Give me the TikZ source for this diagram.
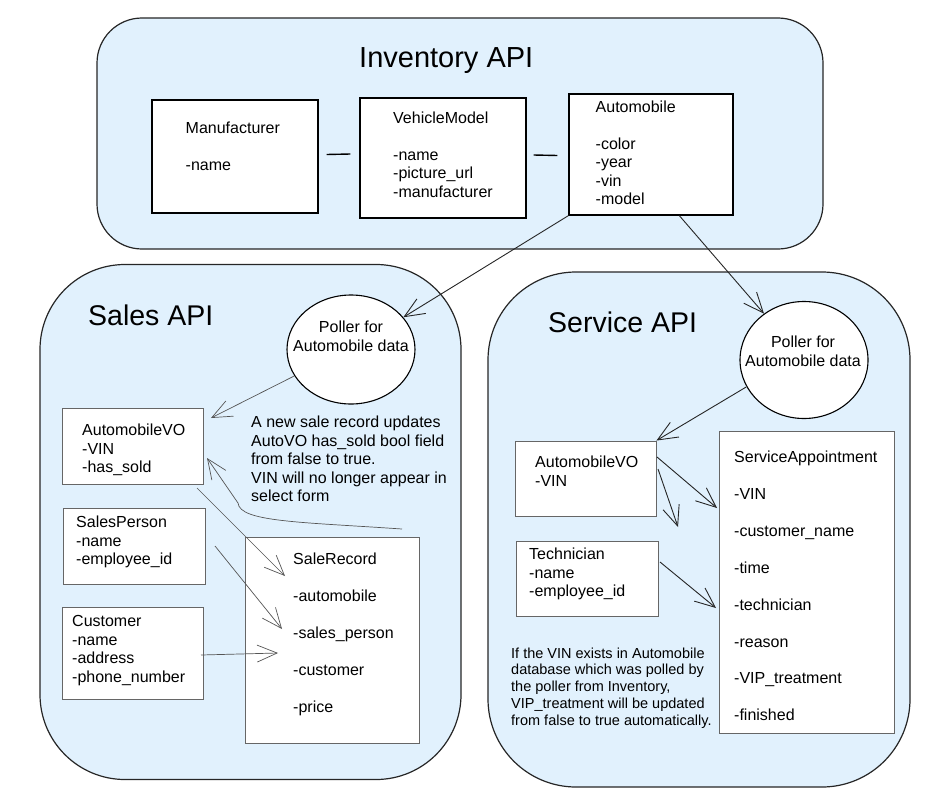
\documentclass[tikz,border=0pt]{standalone}
\usepackage{fontspec}
\setmainfont{Liberation Sans}
\usetikzlibrary{arrows.meta,shapes.geometric,calc}
\definecolor{apibg}{HTML}{E1F1FD}
\definecolor{edgegray}{HTML}{555555}
\begin{document}
\begin{tikzpicture}[x=1pt,y=-1pt,
  container/.style={draw=black!85, line width=1.2pt, fill=apibg, inner sep=0},
  invbox/.style={draw=black, line width=1.3pt, fill=white, inner sep=0},
  subbox/.style={draw=black!60, line width=0.9pt, fill=white, inner sep=0},
  poller/.style={ellipse, draw=black, line width=1.1pt, fill=white, inner sep=0},
  txt/.style={anchor=base west, inner sep=0, align=left, font=\fontsize{16}{18.5}\selectfont},
  ptxt/.style={anchor=base, inner sep=0, align=center, font=\fontsize{16}{18.5}\selectfont},
  notetxt/.style={anchor=base west, inner sep=0, align=left, font=\fontsize{14.5}{16.8}\selectfont},
  title/.style={anchor=base west, inner sep=0, font=\fontsize{29}{34}\selectfont},
  arr/.style={-{Straight Barb[length=20pt,width=17pt]}, line width=0.9pt, draw=black!85},
  arrg/.style={-{Straight Barb[length=20pt,width=17pt]}, line width=0.7pt, draw=edgegray},
  link/.style={line width=1.4pt, draw=black}
]
\useasboundingbox (0,0) rectangle (949,808);

% ---------------- containers ----------------
\node[container, rounded corners=45pt, minimum width=726pt, minimum height=231pt] (inv) at (460,133.5) {};
\node[container, rounded corners=85pt, minimum width=421pt, minimum height=515pt] (sales) at (250.5,522) {};
\node[container, rounded corners=88pt, minimum width=422pt, minimum height=515pt] (service) at (699,529.5) {};

% ---------------- Inventory ----------------
\node[title] (invtitle) at (359,67) {Inventory API};

\node[invbox, minimum width=166pt, minimum height=113pt] (man) at (235,156.5) {};
\node[txt] (mantxt) at (185.5,170) {Manufacturer\\[18pt]-name};

\node[invbox, minimum width=166pt, minimum height=120pt] (vm) at (443,158) {};
\node[txt] (vmtxt) at (393,197) {VehicleModel\\[18pt]-name\\-picture\_url\\-manufacturer};

\node[invbox, minimum width=164pt, minimum height=121pt] (auto) at (651,154.5) {};
\node[txt] (autotxt) at (595.5,204.5) {Automobile\\[18pt]-color\\-year\\-vin\\-model};

\draw[link] ($(man.east)+(8,-2)$) -- ($(vm.west)+(-9,-4)$);
\draw[link] ($(vm.east)+(7,-3)$) -- ($(auto.west)+(-11,1)$);

% ---------------- Sales ----------------
\node[title, font=\fontsize{28.5}{34}\selectfont] (salestitle) at (88,325) {Sales API};
\node[poller, minimum width=128pt, minimum height=109pt] (sp) at (351,349.5) {};
\node[ptxt] (sptxt) at (351,351) {Poller for\\Automobile data};

\node[subbox, minimum width=141pt, minimum height=76pt] (avoS) at (132.5,446) {};
\node[txt] (avoStxt) at (82,472.5) {AutomobileVO\\-VIN\\-has\_sold};

\node[txt] (salesnote) at (251,501.5) {A new sale record updates\\AutoVO has\_sold bool field\\from false to true.\\VIN will no longer appear in\\select form};

\node[subbox, minimum width=142pt, minimum height=76pt] (spers) at (134,546) {};
\node[txt] (sperstxt) at (76,564.5) {SalesPerson\\-name\\-employee\_id};

\node[subbox, minimum width=141pt, minimum height=92pt] (cust) at (132.5,653) {};
\node[txt] (custtxt) at (72,682) {Customer\\-name\\-address\\-phone\_number};

\node[subbox, minimum width=174pt, minimum height=206pt] (srec) at (332,640) {};
\node[txt, font=\fontsize{16}{37}\selectfont] (srectxt) at (293,712.5) {SaleRecord\\-automobile\\-sales\_person\\-customer\\-price};

\coordinate (spA) at (211,418);
\draw[arrg] (sp.205) -- (spA);
\coordinate (s1a) at (197,488);
\coordinate (s1b) at (285,576);
\draw[arrg] (s1a) -- (s1b);
\coordinate (s2a) at (215,546);
\coordinate (s2b) at (282,629);
\draw[arrg] (s2a) -- (s2b);
\coordinate (s3a) at (201,655);
\coordinate (s3b) at (278,653);
\draw[arrg] (s3a) -- (s3b);
\coordinate (cva) at (402,529);
\coordinate (cvb) at (207,458);
\draw[arrg] (cva) .. controls (300,522) and (240,522) .. (238,503) -- (cvb);

% ---------------- Service ----------------
\node[title, font=\fontsize{28.5}{34}\selectfont] (svtitle) at (548,332) {Service API};
\node[poller, minimum width=128pt, minimum height=117pt] (svp) at (804,360) {};
\node[ptxt] (svptxt) at (803,366) {Poller for\\Automobile data};

\node[subbox, minimum width=141pt, minimum height=75pt] (avoV) at (585.5,478.5) {};
\node[txt] (avoVtxt) at (535,486) {AutomobileVO\\-VIN};

\node[subbox, minimum width=175pt, minimum height=302pt] (sapp) at (806.5,582) {};
\node[txt, font=\fontsize{16}{36.9}\selectfont] (sapptxt) at (734,720.8) {ServiceAppointment\\-VIN\\-customer\_name\\-time\\-technician\\-reason\\-VIP\_treatment\\-finished};

\node[subbox, minimum width=142pt, minimum height=75pt] (tech) at (587,578.5) {};
\node[txt] (techtxt) at (529,596.5) {Technician\\-name\\-employee\_id};

\node[notetxt] (svnote) at (511,725.2) {If the VIN exists in Automobile\\database which was polled by\\the poller from Inventory,\\VIP\_treatment will be updated\\from false to true automatically.};

\draw[arr] (svp.205) -- (avoV.north east);
\coordinate (v1a) at (657,457);
\coordinate (v1b) at (717,508);
\draw[arr] (v1a) -- (v1b);
\coordinate (v2a) at (658,469);
\coordinate (v2b) at (678,527);
\draw[arr] (v2a) -- (v2b);
\coordinate (v3a) at (660,562);
\coordinate (v3b) at (716,608);
\draw[arr] (v3a) -- (v3b);

% ---------------- Inventory -> pollers ----------------
\draw[arr] (auto.south west) -- (sp);
\draw[arr] ($(auto.south west)+(111,0)$) -- (svp);
\end{tikzpicture}
\end{document}
